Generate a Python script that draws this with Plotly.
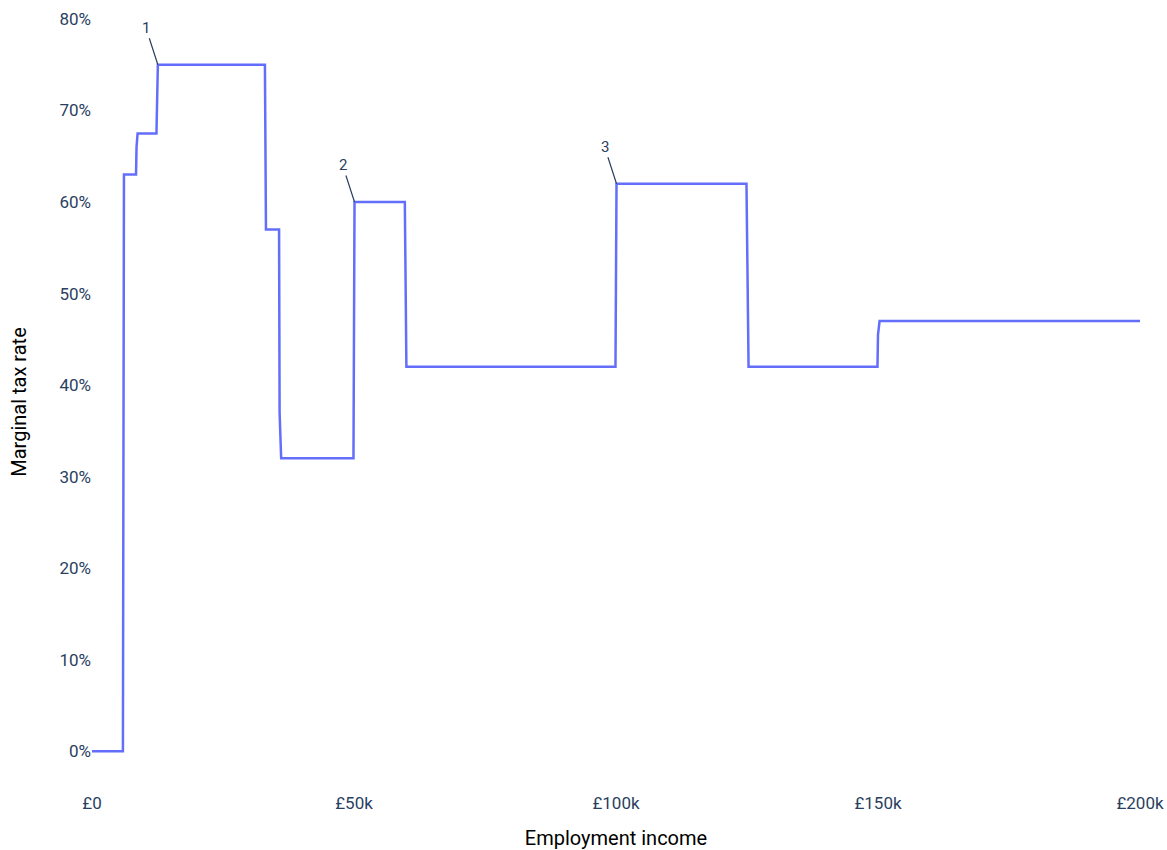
import plotly.graph_objects as go

# Data: employment income (£) and marginal tax rate
income = [0, 5900, 6100, 8400, 8500, 8700, 12300, 12570, 33000, 33200, 35700, 35800, 36100,
          49900, 50100, 59700, 60000, 99900, 100100, 124900, 125300, 149900, 150000, 150300, 200000]
rate = [0.0, 0.0, 0.63, 0.63, 0.66, 0.675, 0.675, 0.75, 0.75, 0.57, 0.57, 0.37, 0.32,
        0.32, 0.60, 0.60, 0.42, 0.42, 0.62, 0.62, 0.42, 0.42, 0.455, 0.47, 0.47]

x_tick_vals = [0, 50000, 100000, 150000, 200000]
x_tick_text = ["£0", "£50k", "£100k", "£150k", "£200k"]
y_tick_vals = [0, 0.1, 0.2, 0.3, 0.4, 0.5, 0.6, 0.7, 0.8]

annot_labels = ["1", "2", "3"]
annot_x = [12570, 50100, 100100]
annot_y = [0.75, 0.60, 0.62]

fig = go.Figure()
fig.add_trace(go.Scatter(x=income, y=rate, mode="lines",
                         line=dict(color="#636EFA", width=2.5), showlegend=False))

for lab, ax_, ay_ in zip(annot_labels, annot_x, annot_y):
    fig.add_annotation(x=ax_, y=ay_, text=lab, showarrow=True, arrowhead=0,
                       arrowwidth=1.2, arrowcolor="#2a3f5f", ax=-12, ay=-37,
                       font=dict(family="Roboto", size=15, color="#2a3f5f"))

fig.update_layout(
    width=1167, height=850,
    margin=dict(l=92, r=27, t=19, b=65),
    paper_bgcolor="white", plot_bgcolor="white",
    font=dict(family="Roboto", size=17, color="#2a3f5f"),
    xaxis=dict(range=[0, 200000], tickvals=x_tick_vals, ticktext=x_tick_text,
               showgrid=False, zeroline=False, showline=False, automargin=False,
               ticklabelstandoff=6,
               title=dict(text="Employment income", font=dict(size=20, color="black"), standoff=20)),
    yaxis=dict(range=[-0.037, 0.8], tickvals=y_tick_vals, tickformat=".0%",
               showgrid=False, zeroline=False, showline=False, automargin=False,
               title=dict(text="Marginal tax rate", font=dict(size=20, color="black"), standoff=27)),
)

fig.write_html("out.html", config={"displayModeBar": False},
               post_script="document.body.style.margin='0';document.body.style.overflow='hidden';")
